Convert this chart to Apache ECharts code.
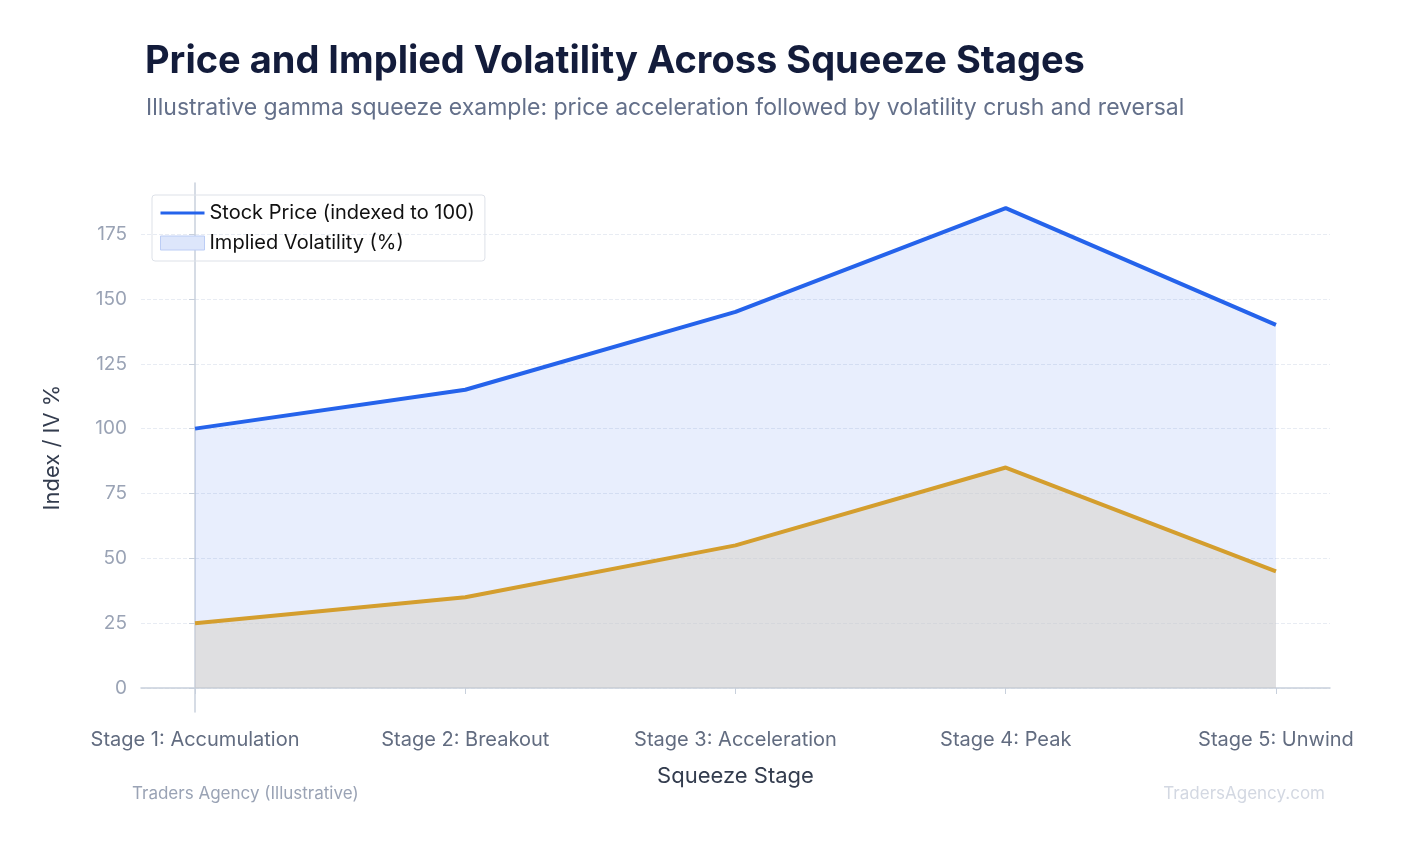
<!DOCTYPE html>
<html><head><meta charset="utf-8">
<script src="https://cdn.jsdelivr.net/npm/echarts@6/dist/echarts.min.js"></script>
<style>html,body{margin:0;background:#fff}#c{width:1403px;height:845px}</style>
</head><body><div id="c"></div>
<script>
const stages = ['Stage 1: Accumulation', 'Stage 2: Breakout', 'Stage 3: Acceleration', 'Stage 4: Peak', 'Stage 5: Unwind'];
const price = [100, 115, 145, 185, 140];
const iv = [25, 35, 55, 85, 45];
const yTicks = [0, 25, 50, 75, 100, 125, 150, 175];

let chart = echarts.init(document.getElementById('c'));
const font = 'Inter, "Noto Sans", sans-serif';
chart.setOption({
    textStyle: {fontFamily: font},
    title: [
        {text: 'Price and Implied Volatility Across Squeeze Stages', left: 140, top: 38,
         textStyle: {fontSize: 38, fontWeight: 'bold', color: '#131c3b', fontFamily: font}},
        {text: 'Illustrative gamma squeeze example: price acceleration followed by volatility crush and reversal', left: 141, top: 92,
         textStyle: {fontSize: 23, fontWeight: 'normal', color: '#64708a', fontFamily: font}},
        {text: 'Traders Agency (Illustrative)', left: 127, top: 780, textStyle: {fontSize: 17, fontWeight: 'normal', color: '#9aa3b5'}},
        {text: 'TradersAgency.com', right: 73, top: 780, textStyle: {fontSize: 17, fontWeight: 'normal', color: '#d3d8e2'}}
    ],
    legend: {
        left: 152, top: 195, orient: 'vertical', itemGap: 10, itemWidth: 44, itemHeight: 14,
        padding: [8, 10, 8, 8], borderColor: '#dde1e8', borderWidth: 1, borderRadius: 3,
        textStyle: {fontSize: 20, color: '#111'},
        data: [
            {name: 'Stock Price (indexed to 100)', icon: 'path://M0,6 L44,6 L44,9 L0,9 Z'},
            {name: 'Implied Volatility (%)', icon: 'rect', itemStyle: {color: '#dde6fb', borderColor: '#bccdf5', borderWidth: 1}}
        ]
    },
    grid: {left: 141, right: 73, top: 183, bottom: 133},
    xAxis: {
        type: 'value', min: -0.2, max: 4.2,
        name: 'Squeeze Stage', nameLocation: 'middle', nameGap: 53,
        nameTextStyle: {fontSize: 22, color: '#333c4e'},
        axisLine: {show: true, lineStyle: {color: '#c8d0dc', width: 1.5}},
        axisTick: {show: true, customValues: [0, 1, 2, 3, 4], length: 6, lineStyle: {color: '#c8d0dc'}},
        axisLabel: {customValues: [0, 1, 2, 3, 4], formatter: v => stages[Math.round(v)], fontSize: 20, color: '#626c80', margin: 18},
        splitLine: {show: false}
    },
    yAxis: {
        type: 'value', min: -9.25, max: 194.7,
        name: 'Index / IV %', nameLocation: 'middle', nameGap: 78,
        nameTextStyle: {fontSize: 22, color: '#333c4e'},
        axisLine: {show: true, lineStyle: {color: '#c8d0dc', width: 1.5}},
        axisTick: {show: true, customValues: yTicks, length: 6, lineStyle: {color: '#c8d0dc'}},
        axisLabel: {customValues: yTicks, fontSize: 19, color: '#9aa3b5', margin: 14},
        splitLine: {show: true, lineStyle: {color: '#e8ecf3', type: 'dashed'}}
    },
    series: [
        {name: 'Stock Price (indexed to 100)', type: 'line', symbol: 'none', z: 2,
         data: price.map((v, i) => [i, v]),
         lineStyle: {color: '#2563eb', width: 4}, itemStyle: {color: '#2563eb'},
         areaStyle: {color: 'rgba(37,99,235,0.15)', origin: 0}},
        {name: 'Implied Volatility (%)', type: 'line', symbol: 'none', z: 3,
         data: iv.map((v, i) => [i, v]),
         lineStyle: {color: '#d49e2e', width: 4}, itemStyle: {color: '#d49e2e'},
         areaStyle: {color: 'rgba(215,210,200,0.75)', origin: 0}}
    ]
});
</script></body></html>
